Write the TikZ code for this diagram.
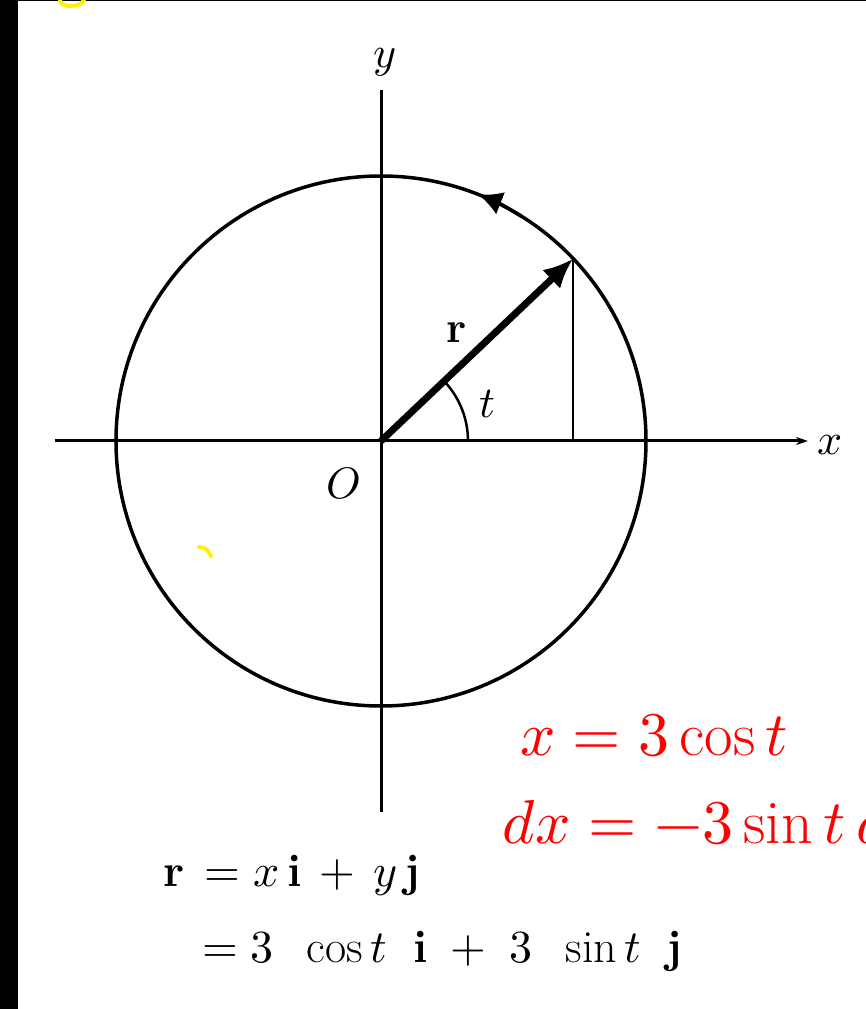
\documentclass[tikz,border=0pt]{standalone}
\usepackage{unicode-math}
\usetikzlibrary{arrows.meta}
\begin{document}
\begin{tikzpicture}[x=1pt, y=1pt,
    lbl/.style={inner sep=0pt, font=\fontsize{44}{52}\selectfont},
    eq/.style={inner sep=0pt, anchor=base west, font=\fontsize{46}{54}\selectfont},
    note/.style={inner sep=0pt, anchor=base west, red, font=\fontsize{62}{70}\selectfont}]
    \useasboundingbox (-381, -568) rectangle (485, 441);
    \clip (-381, -568) rectangle (485, 441);
    \fill[white] (-381, -568) rectangle (485, 441);
    \fill[black] (-381, -568) rectangle (-363, 441);
    \fill[black] (-381, 439.5) rectangle (485, 441);

    \draw[yellow, line width=4pt, line cap=round] (-321, 441) .. controls (-321, 433) and (-300, 433) .. (-297, 441);
    \draw[yellow, line width=4pt, line cap=round] (-182, -106) .. controls (-175, -107) .. (-170, -115);

    \coordinate (o) at (0, 0);
    \coordinate (xLeft) at (-326, 0);
    \coordinate (xTip) at (427, 0);
    \coordinate (yTop) at (0, 351);
    \coordinate (yBot) at (0, -371);
    \coordinate (pt) at (43.5:265);

    \node[lbl] (xLbl) at (449, -4) {$x$};
    \node[lbl] (yLbl) at (4, 379) {$y$};
    \node[lbl] (oLbl) at (-38, -42) {$O$};
    \node[lbl] (rLbl) at (76, 108) {$\mathbf{r}$};
    \node[lbl] (tLbl) at (106, 37) {$t$};

    \draw[line width=3.5pt] (o) circle[radius=265];
    \draw[line width=3.5pt, -{Latex[length=24pt, width=24pt]}] (58:265) arc[start angle=58, end angle=68.5, radius=265];

    \draw[line width=3pt, -{Stealth[length=12pt, width=8pt]}] (xLeft) -- (xTip);
    \draw[line width=3pt] (yBot) -- (yTop);

    \draw[line width=7pt, -{Latex[length=30pt, width=26pt]}] (o) -- (pt);
    \draw[line width=2.5pt] (pt) -- (pt |- o);
    \draw[line width=2.5pt] (87, 0) arc[start angle=0, end angle=43.5, radius=87];

    \node[eq] (eq1) at (-218, -445) {$\mathbf{r}\, = x\,\mathbf{i} \,+\, y\,\mathbf{j}$};
    \node[eq] (eq2) at (-179, -521) {$= 3\;\;\cos t\;\;\mathbf{i} \;+\; 3\;\;\sin t\;\;\mathbf{j}$};

    \node[note] (note1) at (139, -314) {$x = 3\cos t$};
    \node[note] (note2) at (121, -402) {$dx = -3\sin t\,dt$};
\end{tikzpicture}
\end{document}
